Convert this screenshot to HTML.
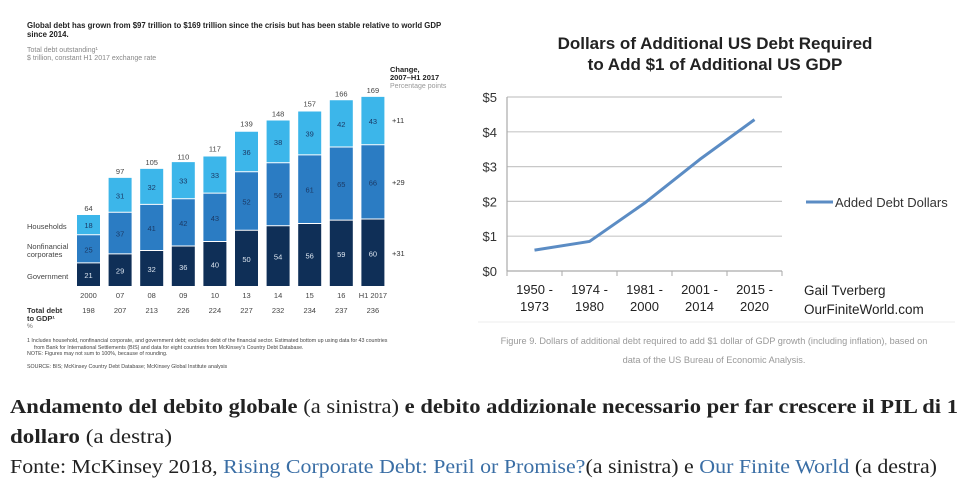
<!DOCTYPE html>
<html><head><meta charset="utf-8">
<style>
html,body{margin:0;padding:0;background:#fff;}
svg{display:block;}
</style></head>
<body>
<svg id="root" width="970" height="492" viewBox="0 0 970 492" xmlns="http://www.w3.org/2000/svg">
  <g id="left" font-family="Liberation Sans, sans-serif">
    <text x="27" y="28" font-size="7.8" font-weight="bold" fill="#222">Global debt has grown from $97 trillion to $169 trillion since the crisis but has been stable relative to world GDP</text>
    <text x="27" y="37" font-size="7.8" font-weight="bold" fill="#222">since 2014.</text>
    <text x="27" y="52" font-size="7" fill="#888">Total debt outstanding¹</text>
    <text x="27" y="60" font-size="7" fill="#888">$ trillion, constant H1 2017 exchange rate</text>
    <text x="390" y="72" font-size="7.5" font-weight="bold" fill="#222">Change,</text>
    <text x="390" y="80" font-size="7.5" font-weight="bold" fill="#222">2007–H1 2017</text>
    <text x="390" y="88" font-size="7" fill="#999">Percentage points</text>
    <text x="392" y="123" font-size="7.5" fill="#333">+11</text>
    <text x="392" y="185" font-size="7.5" fill="#333">+29</text>
    <text x="392" y="256" font-size="7.5" fill="#333">+31</text>
    <text x="27" y="229" font-size="7.5" fill="#444">Households</text>
    <text x="27" y="249" font-size="7.5" fill="#444">Nonfinancial</text>
    <text x="27" y="257" font-size="7.5" fill="#444">corporates</text>
    <text x="27" y="279" font-size="7.5" fill="#444">Government</text>
    <text x="27" y="313" font-size="7.5" font-weight="bold" fill="#333">Total debt</text>
    <text x="27" y="321" font-size="7.5" font-weight="bold" fill="#333">to GDP¹</text>
    <text x="27" y="328" font-size="6.5" fill="#666">%</text>
    <text x="27" y="342" font-size="5.3" fill="#444">1  Includes household, nonfinancial corporate, and government debt; excludes debt of the financial sector. Estimated bottom up using data for 43 countries</text>
    <text x="34" y="349" font-size="5.3" fill="#444">from Bank for International Settlements (BIS) and data for eight countries from McKinsey's Country Debt Database.</text>
    <text x="27" y="355" font-size="5.3" fill="#444">NOTE: Figures may not sum to 100%, because of rounding.</text>
    <text x="27" y="368" font-size="5.3" fill="#444">SOURCE:  BIS; McKinsey Country Debt Database; McKinsey Global Institute analysis</text>
    <g id="bars"></g>
  </g>
  <g id="right" font-family="Liberation Sans, DejaVu Sans, sans-serif">
    <text x="715" y="49" font-size="17" font-weight="bold" text-anchor="middle" fill="#222">Dollars of Additional US Debt Required</text>
    <text x="715" y="70" font-size="17" font-weight="bold" text-anchor="middle" fill="#222">to Add $1 of Additional US GDP</text>
    <g id="rgrid"></g>
    <line x1="806" y1="202" x2="833" y2="202" stroke="#5b8cc4" stroke-width="3"/>
    <text x="835" y="207" font-size="13" fill="#333">Added Debt Dollars</text>
    <text x="804" y="295" font-size="13.5" fill="#222">Gail Tverberg</text>
    <text x="804" y="314" font-size="13.5" fill="#222">OurFiniteWorld.com</text>
    <line x1="478" y1="322" x2="955" y2="322" stroke="#eee" stroke-width="1"/>
    <text x="714" y="344" font-size="9.2" fill="#999" text-anchor="middle">Figure 9. Dollars of additional debt required to add $1 dollar of GDP growth (including inflation), based on</text>
    <text x="714" y="363" font-size="9.2" fill="#999" text-anchor="middle">data of the US Bureau of Economic Analysis.</text>
  </g>
  <g font-family="Liberation Serif, serif" font-size="20" fill="#222">
    <text x="10" y="413" textLength="948" lengthAdjust="spacingAndGlyphs"><tspan font-weight="bold">Andamento del debito globale</tspan> (a sinistra) <tspan font-weight="bold">e debito addizionale necessario per far crescere il PIL di 1</tspan></text>
    <text x="10" y="443" textLength="162" lengthAdjust="spacingAndGlyphs"><tspan font-weight="bold">dollaro</tspan> (a destra)</text>
    <text x="10" y="473" textLength="927" lengthAdjust="spacingAndGlyphs">Fonte: McKinsey 2018, <tspan fill="#3a6ea5">Rising Corporate Debt: Peril or Promise?</tspan>(a sinistra) e <tspan fill="#3a6ea5">Our Finite World</tspan> (a destra)</text>
  </g>
</svg>
<script>
const years = ["2000","07","08","09","10","13","14","15","16","H1 2017"];
const government = [21,29,32,36,40,50,54,56,59,60];
const corporates = [25,37,41,42,43,52,56,61,65,66];
const households = [18,31,32,33,33,36,38,39,42,43];
const totals = [64,97,105,110,117,139,148,157,166,169];
const debtToGdp = [198,207,213,226,224,227,232,234,237,236];

const periods1 = ["1950 -","1974 -","1981 -","2001 -","2015 -"];
const periods2 = ["1973","1980","2000","2014","2020"];
const addedDebt = [0.6,0.85,1.95,3.2,4.35];
const yTicks = [0,1,2,3,4,5];
const yTickLabels = ["$0","$1","$2","$3","$4","$5"];

const NS = "http://www.w3.org/2000/svg";
function mk(tag, attrs, parent, txt){
  const e = document.createElementNS(NS, tag);
  for (const k in attrs) e.setAttribute(k, attrs[k]);
  if (txt !== undefined) e.textContent = txt;
  parent.appendChild(e);
  return e;
}
const base = 287, unit = 1.125, x0 = 77, step = 31.6, bw = 23;
const bx = i => x0 + i*step;
const by = v => base - v*unit;
const bars = document.getElementById("bars");
const segs = [[government,"#0f2f57","government"],[corporates,"#2b7cc3","corporates"],[households,"#3cb6ea","households"]];
years.forEach((yr,i)=>{
  let acc = 0;
  segs.forEach(([arr,col,nm])=>{
    const v = arr[i];
    const r = mk("rect",{x:bx(i),y:by(acc+v),width:bw,height:v*unit-1,fill:col},bars);
    
    
    const t = mk("text",{x:bx(i)+bw/2,y:by(acc+v/2)+3,"font-size":7.5,"text-anchor":"middle",fill:nm==="government"?"#dde6f0":"#1b3a66"},bars,String(v));
    
    
    acc += v;
  });
  const tt = mk("text",{x:bx(i)+bw/2,y:by(totals[i])-4,"font-size":7.5,"text-anchor":"middle",fill:"#444"},bars,String(totals[i]));
  
  
  const yl = mk("text",{x:bx(i)+bw/2,y:298,"font-size":7.5,"text-anchor":"middle",fill:"#444"},bars,yr);
  
  
  const gl = mk("text",{x:bx(i)+bw/2,y:313,"font-size":7.5,"text-anchor":"middle",fill:"#444"},bars,String(debtToGdp[i]));
  
  
});
const g = document.getElementById("rgrid");
const X0 = 507, X1 = 782, Y0 = 271, pu = 34.8;
const cw = (X1-X0)/periods1.length;
const rx = i => X0 + cw*(i+0.5);
const ry = v => Y0 - v*pu;
yTicks.forEach((v,i)=>{
  const l = mk("line",{x1:X0,x2:X1,y1:ry(v),y2:ry(v),stroke:v===0?"#aaa":"#c8c8c8","stroke-width":1.2},g);
  
  
  const t = mk("text",{x:497,y:ry(v)+5,"font-size":13,"text-anchor":"end",fill:"#333"},g,yTickLabels[i]);
  
  
});
mk("line",{x1:X0,x2:X0,y1:ry(5),y2:Y0,stroke:"#aaa","stroke-width":1.2},g);
for (let i=0;i<=periods1.length;i++){
  mk("line",{x1:X0+cw*i,x2:X0+cw*i,y1:Y0,y2:Y0+5,stroke:"#aaa"},g);
}
periods1.forEach((p,i)=>{
  const t1 = mk("text",{x:rx(i),y:294,"font-size":13,"text-anchor":"middle",fill:"#222"},g,p);
  
  
  const t2 = mk("text",{x:rx(i),y:311,"font-size":13,"text-anchor":"middle",fill:"#222"},g,periods2[i]);
  
  
});
const pts = addedDebt.map((v,i)=>rx(i)+","+ry(v)).join(" ");
const pl = mk("polyline",{points:pts,fill:"none",stroke:"#5b8cc4","stroke-width":3,"stroke-linejoin":"round"},g);


</script>
</body></html>
